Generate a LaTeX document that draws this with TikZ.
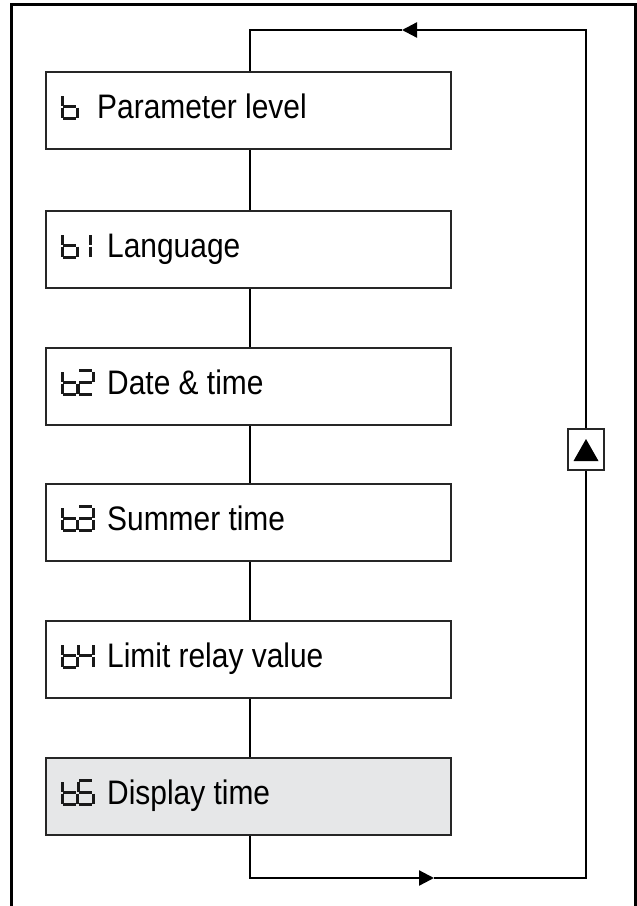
\documentclass[tikz,border=0pt]{standalone}
\usepackage{fontspec}
\setmainfont{Liberation Sans}[FakeStretch=0.88]
\usetikzlibrary{calc,arrows.meta}
\begin{document}
\begin{tikzpicture}[x=1pt,y=-1pt,
  frame/.style={line width=3pt,black},
  menubox/.style={draw=black!85,line width=2.3pt,minimum width=405pt,minimum height=77pt,inner sep=0pt,anchor=north west},
  conn/.style={line width=2.3pt,black},
  tip/.style={-{Triangle[length=15pt,width=15pt]}},
  segline/.style={line width=3pt,black!90,line cap=butt},
  label/.style={anchor=base west,inner sep=0pt,font=\fontsize{34}{40}\selectfont},
  segb/.pic={\draw[segline] (0,-13)--(0,-23) (0,-1)--(0,-11) (1,-12)--(14,-12) (15,-11)--(15,-1) (1,0)--(14,0);},
  segone/.pic={\draw[segline] (15,-13)--(15,-23) (15,-11)--(15,-1);},
  segtwo/.pic={\draw[segline] (1,-24)--(14,-24) (15,-13)--(15,-23) (1,-12)--(14,-12) (0,-1)--(0,-11) (1,0)--(14,0);},
  segthree/.pic={\draw[segline] (1,-24)--(14,-24) (15,-13)--(15,-23) (1,-12)--(14,-12) (15,-11)--(15,-1) (1,0)--(14,0);},
  segfour/.pic={\draw[segline] (0,-13)--(0,-23) (15,-13)--(15,-23) (1,-12)--(14,-12) (15,-11)--(15,-1);},
  segfive/.pic={\draw[segline] (1,-24)--(14,-24) (0,-13)--(0,-23) (1,-12)--(14,-12) (15,-11)--(15,-1) (1,0)--(14,0);}
]
\useasboundingbox (0,0) rectangle (637,906);
% outer frame
\draw[frame] (11,906) -- (11,4) -- (635.5,4) -- (635.5,906);

% boxes
\node[menubox] (b0) at (45,71) {};
\node[menubox] (b1) at (45,210) {};
\node[menubox] (b2) at (45,347) {};
\node[menubox] (b3) at (45,483) {};
\node[menubox] (b4) at (45,620) {};
\node[menubox,fill={rgb,255:red,230;green,231;blue,232}] (b5) at (45,757) {};

% seven-segment codes
\pic at ($(b0.north west)+(17,47.5)$) {segb};
\pic at ($(b1.north west)+(17,47.5)$) {segb};
\pic at ($(b1.north west)+(30,47.5)$) {segone};
\pic at ($(b2.north west)+(17,47.5)$) {segb};
\pic at ($(b2.north west)+(33,47.5)$) {segtwo};
\pic at ($(b3.north west)+(17,47.5)$) {segb};
\pic at ($(b3.north west)+(33,47.5)$) {segthree};
\pic at ($(b4.north west)+(17,47.5)$) {segb};
\pic at ($(b4.north west)+(33,47.5)$) {segfour};
\pic at ($(b5.north west)+(17,47.5)$) {segb};
\pic at ($(b5.north west)+(33,47.5)$) {segfive};

% labels
\node[label] (t0) at ($(b0.north west)+(52,47.5)$) {Parameter level};
\node[label] (t1) at ($(b1.north west)+(62,47.5)$) {Language};
\node[label] (t2) at ($(b2.north west)+(62,47.5)$) {Date \& time};
\node[label] (t3) at ($(b3.north west)+(62,47.5)$) {Summer time};
\node[label] (t4) at ($(b4.north west)+(62,47.5)$) {Limit relay value};
\node[label] (t5) at ($(b5.north west)+(62,47.5)$) {Display time};

% key box with up triangle
\node[draw=black!85,line width=2pt,minimum width=36pt,minimum height=41pt,inner sep=0pt] (key) at (586,449.5) {};
\fill[black] ($(key.center)+(0,-10.5)$) -- ($(key.center)+(12.5,11.5)$) -- ($(key.center)+(-12.5,11.5)$) -- cycle;

% connectors
\coordinate (cx) at (250,0);
\draw[conn] (b0.south -| cx) -- (b1.north -| cx);
\draw[conn] (b1.south -| cx) -- (b2.north -| cx);
\draw[conn] (b2.south -| cx) -- (b3.north -| cx);
\draw[conn] (b3.south -| cx) -- (b4.north -| cx);
\draw[conn] (b4.south -| cx) -- (b5.north -| cx);

% loop
\coordinate (bl) at (250,878);
\coordinate (arrB) at (434,878);
\coordinate (br) at (586,878);
\coordinate (tr) at (586,30);
\coordinate (arrT) at (402,30);
\coordinate (tl) at (250,30);
\draw[conn,tip] (b5.south -| cx) -- (bl) -- (arrB);
\draw[conn] (arrB) -- (br) -- (key.south);
\draw[conn,tip] (key.north) -- (tr) -- (arrT);
\draw[conn] (arrT) -- (tl) -- (b0.north -| cx);
\end{tikzpicture}
\end{document}
